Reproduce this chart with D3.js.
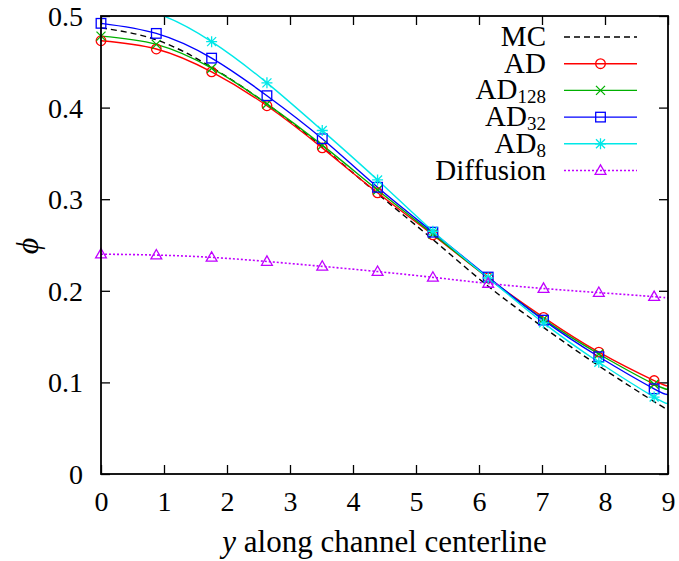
<!DOCTYPE html>
<html>
<head>
<meta charset="utf-8">
<script src="https://cdn.jsdelivr.net/npm/d3@7"></script>
<style>
  html, body { margin: 0; padding: 0; background: #fff; }
  svg { display: block; }
  text { font-family: "Liberation Serif", "DejaVu Serif", serif; fill: #000; }
</style>
</head>
<body>
<svg id="chart" width="679" height="561"></svg>
<script>
// Sample positions along the channel centerline (last entry is the domain end)
const yAlong = [0, 0.878, 1.756, 2.634, 3.512, 4.39, 5.268, 6.146, 7.024, 7.902, 8.78, 9.0];
const markerCount = 11; // symbols are drawn on the first 11 samples

// phi profiles
const mc        = [0.487, 0.474, 0.444, 0.404, 0.357, 0.306, 0.256, 0.205, 0.160, 0.118, 0.079, 0.070];
const ad        = [0.473, 0.464, 0.439, 0.402, 0.356, 0.307, 0.261, 0.214, 0.171, 0.133, 0.102, 0.096];
const ad128     = [0.478, 0.469, 0.443, 0.404, 0.359, 0.310, 0.262, 0.214, 0.169, 0.131, 0.098, 0.093];
const ad32      = [0.492, 0.481, 0.454, 0.413, 0.366, 0.313, 0.264, 0.215, 0.168, 0.128, 0.093, 0.087];
const ad8       = [0.515, 0.503, 0.472, 0.427, 0.375, 0.321, 0.265, 0.214, 0.165, 0.122, 0.084, 0.077];
const diffusion = [0.240, 0.239, 0.2365, 0.232, 0.2267, 0.221, 0.2147, 0.208, 0.2025, 0.198, 0.1936, 0.192];

const xTicks = [0, 1, 2, 3, 4, 5, 6, 7, 8, 9];
const yTicks = [0, 0.1, 0.2, 0.3, 0.4, 0.5];
const xLabel = "along channel centerline";

const series = [
  { name: "MC",        sub: null,  values: mc,        color: "#000000", dash: "6,4", symbol: null },
  { name: "AD",        sub: null,  values: ad,        color: "#ff0000", dash: null,  symbol: "circle" },
  { name: "AD",        sub: "128", values: ad128,     color: "#00b000", dash: null,  symbol: "cross" },
  { name: "AD",        sub: "32",  values: ad32,      color: "#0000ff", dash: null,  symbol: "square" },
  { name: "AD",        sub: "8",   values: ad8,       color: "#00e8e8", dash: null,  symbol: "star" },
  { name: "Diffusion", sub: null,  values: diffusion, color: "#c000ff", dash: "2,2", symbol: "triangle" }
];

const FONT = "Liberation Serif";
const svg = d3.select("#chart");
const m = { left: 101, top: 16, right: 11, bottom: 87 };
const W = 679 - m.left - m.right;
const H = 561 - m.top - m.bottom;

const x = d3.scaleLinear().domain([0, 9]).range([0, W]);
const y = d3.scaleLinear().domain([0, 0.5]).range([H, 0]);

const g = svg.append("g").attr("transform", `translate(${m.left},${m.top})`);

svg.append("defs").append("clipPath").attr("id", "plotClip")
  .append("rect").attr("width", W).attr("height", H);

// Axes: ticks point inward on all four sides
const tickLen = 9;
const fmtY = d => d === 0 ? "0" : d3.format(".1f")(d);

const axB = g.append("g").attr("transform", `translate(0,${H})`)
  .call(d3.axisBottom(x).tickValues(xTicks).tickSizeInner(-tickLen).tickSizeOuter(0).tickPadding(17).tickFormat(d3.format("d")));
const axT = g.append("g")
  .call(d3.axisTop(x).tickValues(xTicks).tickSizeInner(-tickLen).tickSizeOuter(0).tickFormat(""));
const axL = g.append("g")
  .call(d3.axisLeft(y).tickValues(yTicks).tickSizeInner(-tickLen).tickSizeOuter(0).tickPadding(18).tickFormat(fmtY));
const axR = g.append("g").attr("transform", `translate(${W},0)`)
  .call(d3.axisRight(y).tickValues(yTicks).tickSizeInner(-tickLen).tickSizeOuter(0).tickFormat(""));

[axB, axT, axL, axR].forEach(a => {
  a.attr("font-family", FONT);
  a.select(".domain").remove();
  a.selectAll(".tick line").attr("stroke", "#000").attr("stroke-width", 1.3);
  a.selectAll(".tick text").attr("font-family", FONT).attr("font-size", 28).attr("fill", "#000");
});
axB.selectAll(".tick text").attr("dy", "0.71em");
axL.selectAll(".tick text").attr("dy", "0.34em");

// Curves
const line = d3.line()
  .x((d, i) => x(yAlong[i]))
  .y(d => y(d))
  .curve(d3.curveNatural);

const plot = g.append("g").attr("clip-path", "url(#plotClip)");

function drawSymbol(sel, type, color, cx, cy) {
  const s = sel.append("g").attr("transform", `translate(${cx},${cy})`)
    .attr("fill", "none").attr("stroke", color).attr("stroke-width", 1.3);
  if (type === "circle") {
    s.append("circle").attr("r", 4.8);
  } else if (type === "square") {
    s.append("rect").attr("x", -4.8).attr("y", -4.8).attr("width", 9.6).attr("height", 9.6);
  } else if (type === "cross") {
    s.append("path").attr("d", "M-4.5,-4.5L4.5,4.5M-4.5,4.5L4.5,-4.5");
  } else if (type === "star") {
    s.append("path").attr("d", "M-4.5,-4.5L4.5,4.5M-4.5,4.5L4.5,-4.5M-5.5,0L5.5,0M0,-5.5L0,5.5");
  } else if (type === "triangle") {
    s.append("path").attr("d", "M0,-5.6L5.4,3.8L-5.4,3.8Z");
  }
}

series.forEach(sr => {
  plot.append("path")
    .attr("d", line(sr.values))
    .attr("fill", "none")
    .attr("stroke", sr.color)
    .attr("stroke-width", sr.dash === "2,2" ? 1.6 : 1.4)
    .attr("stroke-dasharray", sr.dash);
});

series.forEach(sr => {
  if (!sr.symbol) return;
  sr.values.slice(0, markerCount).forEach((v, i) => {
    if (v < 0 || v > 0.5) return;
    drawSymbol(g, sr.symbol, sr.color, x(yAlong[i]), y(v));
  });
});

// Frame
g.append("rect").attr("width", W).attr("height", H)
  .attr("fill", "none").attr("stroke", "#000").attr("stroke-width", 1.8);

// Legend
const leg = svg.append("g");
const legTextX = 546, legLine0 = 564, legLine1 = 637, legRow0 = 37, legStep = 26.7;
series.forEach((sr, i) => {
  const cy = legRow0 + i * legStep;
  const t = leg.append("text").attr("x", legTextX).attr("y", cy + 9)
    .attr("text-anchor", "end").attr("font-size", 29);
  t.append("tspan").text(sr.name);
  if (sr.sub) {
    t.append("tspan").attr("font-size", 19).attr("dy", 4).text(sr.sub);
  }
  leg.append("line").attr("x1", legLine0).attr("x2", legLine1).attr("y1", cy).attr("y2", cy)
    .attr("stroke", sr.color).attr("stroke-width", sr.dash === "2,2" ? 1.6 : 1.4)
    .attr("stroke-dasharray", sr.dash);
  if (sr.symbol) drawSymbol(leg, sr.symbol, sr.color, (legLine0 + legLine1) / 2, cy);
});

// Axis titles
const xt = svg.append("text").attr("x", m.left + W / 2).attr("y", 552)
  .attr("text-anchor", "middle").attr("font-size", 31);
xt.append("tspan").attr("font-style", "italic").text("y");
xt.append("tspan").text(" " + xLabel);

svg.append("text").attr("transform", "translate(38,246) rotate(-90)")
  .attr("text-anchor", "middle").attr("font-size", 32).attr("font-style", "italic").text("\u03d5");
</script>
</body>
</html>
